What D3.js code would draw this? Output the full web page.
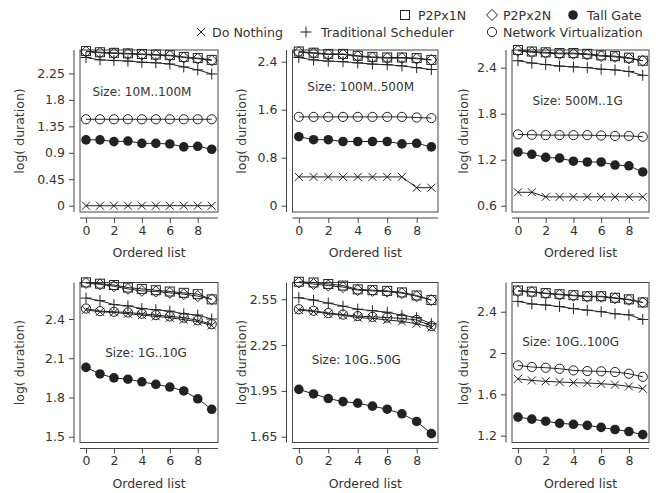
<!DOCTYPE html>
<html>
<head>
<meta charset="utf-8">
<script src="https://cdn.jsdelivr.net/npm/d3@7"></script>
<style>
  body { margin: 0; background: #fff; }
  svg { display: block; }
  text { font-family: "DejaVu Sans", sans-serif; fill: #333; }
</style>
</head>
<body>
<div id="plot"></div>
<script>
// chart values
const orderIdx = [0, 1, 2, 3, 4, 5, 6, 7, 8, 9];
const xTicks = [0, 2, 4, 6, 8];
const seriesNames = ["Do Nothing", "Traditional Scheduler", "P2Px1N", "P2Px2N", "Tall Gate", "Network Virtualization"];
const panelLabels = ["Size: 10M..100M", "Size: 100M..500M", "Size: 500M..1G", "Size: 1G..10G", "Size: 10G..50G", "Size: 10G..100G"];

const p1DoNothing   = [0, 0, 0, 0, 0, 0, 0, 0, 0, 0];
const p1Traditional = [2.52, 2.48, 2.47, 2.46, 2.44, 2.43, 2.41, 2.36, 2.31, 2.24];
const p1P2Px1N      = [2.63, 2.61, 2.60, 2.59, 2.58, 2.57, 2.56, 2.53, 2.51, 2.48];
const p1P2Px2N      = [2.62, 2.60, 2.59, 2.58, 2.57, 2.56, 2.55, 2.52, 2.50, 2.47];
const p1TallGate    = [1.12, 1.12, 1.09, 1.10, 1.06, 1.06, 1.05, 1.00, 1.01, 0.96];
const p1Network     = [1.47, 1.47, 1.47, 1.47, 1.47, 1.47, 1.47, 1.47, 1.47, 1.47];

const p2DoNothing   = [0.48, 0.48, 0.48, 0.48, 0.48, 0.48, 0.48, 0.48, 0.30, 0.30];
const p2Traditional = [2.47, 2.43, 2.41, 2.40, 2.38, 2.36, 2.35, 2.33, 2.30, 2.27];
const p2P2Px1N      = [2.57, 2.55, 2.53, 2.53, 2.50, 2.48, 2.47, 2.47, 2.46, 2.43];
const p2P2Px2N      = [2.56, 2.54, 2.52, 2.52, 2.49, 2.47, 2.46, 2.46, 2.45, 2.43];
const p2TallGate    = [1.15, 1.10, 1.10, 1.07, 1.07, 1.07, 1.07, 1.03, 1.04, 0.98];
const p2Network     = [1.48, 1.48, 1.48, 1.48, 1.48, 1.48, 1.48, 1.48, 1.47, 1.46];

const p3DoNothing   = [0.775, 0.775, 0.715, 0.715, 0.715, 0.715, 0.715, 0.715, 0.715, 0.715];
const p3Traditional = [2.49, 2.46, 2.44, 2.42, 2.41, 2.40, 2.38, 2.37, 2.35, 2.30];
const p3P2Px1N      = [2.63, 2.61, 2.60, 2.59, 2.59, 2.58, 2.56, 2.55, 2.53, 2.49];
const p3P2Px2N      = [2.62, 2.60, 2.59, 2.58, 2.58, 2.57, 2.55, 2.54, 2.52, 2.49];
const p3TallGate    = [1.30, 1.27, 1.23, 1.22, 1.18, 1.17, 1.17, 1.13, 1.12, 1.04];
const p3Network     = [1.53, 1.525, 1.52, 1.52, 1.52, 1.52, 1.515, 1.51, 1.51, 1.50];

const p4DoNothing   = [2.47, 2.455, 2.45, 2.44, 2.43, 2.42, 2.41, 2.395, 2.38, 2.35];
const p4Traditional = [2.56, 2.54, 2.51, 2.50, 2.48, 2.47, 2.46, 2.44, 2.43, 2.40];
const p4P2Px1N      = [2.68, 2.67, 2.66, 2.64, 2.63, 2.62, 2.61, 2.60, 2.59, 2.55];
const p4P2Px2N      = [2.675, 2.665, 2.65, 2.63, 2.615, 2.61, 2.60, 2.59, 2.575, 2.55];
const p4TallGate    = [2.03, 1.98, 1.95, 1.94, 1.92, 1.90, 1.88, 1.85, 1.79, 1.71];
const p4Network     = [2.48, 2.46, 2.455, 2.45, 2.44, 2.43, 2.42, 2.41, 2.39, 2.36];

const p5DoNothing   = [2.48, 2.47, 2.455, 2.445, 2.43, 2.425, 2.415, 2.405, 2.39, 2.365];
const p5Traditional = [2.56, 2.545, 2.525, 2.505, 2.485, 2.475, 2.465, 2.445, 2.43, 2.39];
const p5P2Px1N      = [2.665, 2.66, 2.65, 2.64, 2.615, 2.61, 2.605, 2.595, 2.575, 2.545];
const p5P2Px2N      = [2.66, 2.65, 2.64, 2.63, 2.61, 2.605, 2.60, 2.59, 2.57, 2.545];
const p5TallGate    = [1.96, 1.93, 1.90, 1.88, 1.87, 1.85, 1.83, 1.80, 1.75, 1.67];
const p5Network     = [2.485, 2.475, 2.46, 2.45, 2.44, 2.435, 2.43, 2.425, 2.415, 2.375];

const p6DoNothing   = [1.75, 1.735, 1.726, 1.72, 1.713, 1.71, 1.703, 1.694, 1.677, 1.655];
const p6Traditional = [2.50, 2.475, 2.465, 2.45, 2.43, 2.415, 2.40, 2.38, 2.37, 2.325];
const p6P2Px1N      = [2.605, 2.595, 2.58, 2.57, 2.56, 2.55, 2.55, 2.535, 2.52, 2.49];
const p6P2Px2N      = [2.60, 2.59, 2.575, 2.565, 2.555, 2.545, 2.545, 2.53, 2.515, 2.49];
const p6TallGate    = [1.38, 1.36, 1.34, 1.32, 1.31, 1.30, 1.28, 1.26, 1.24, 1.21];
const p6Network     = [1.88, 1.865, 1.858, 1.848, 1.832, 1.826, 1.823, 1.816, 1.80, 1.77];

const p1Ticks = [0, 0.45, 0.9, 1.35, 1.8, 2.25];
const p2Ticks = [0, 0.8, 1.6, 2.4];
const p3Ticks = [0.6, 1.2, 1.8, 2.4];
const p4Ticks = [1.5, 1.8, 2.1, 2.4];
const p5Ticks = [1.65, 1.95, 2.25, 2.55];
const p6Ticks = [1.2, 1.6, 2, 2.4];

const width = 658, height = 493;
const ink = "#222", axisInk = "#444";

const svg = d3.select("#plot").append("svg")
    .attr("width", width)
    .attr("height", height);

// marker per series, same order as seriesNames
const markers = ["cross", "plus", "square", "diamond", "dot", "circle"];

function drawMarker(g, type, x, y) {
    if (type === "cross") {
        g.append("path").attr("d", `M${x-4},${y-4}L${x+4},${y+4}M${x-4},${y+4}L${x+4},${y-4}`)
            .attr("stroke", ink).attr("fill", "none");
    } else if (type === "plus") {
        g.append("path").attr("d", `M${x-5.5},${y}H${x+5.5}M${x},${y-5.5}V${y+5.5}`)
            .attr("stroke", ink).attr("fill", "none");
    } else if (type === "square") {
        g.append("rect").attr("x", x - 4.5).attr("y", y - 4.5).attr("width", 9).attr("height", 9)
            .attr("stroke", ink).attr("fill", "none");
    } else if (type === "diamond") {
        g.append("path").attr("d", `M${x},${y-5.5}L${x+5.5},${y}L${x},${y+5.5}L${x-5.5},${y}Z`)
            .attr("stroke", ink).attr("fill", "none");
    } else if (type === "dot") {
        g.append("circle").attr("cx", x).attr("cy", y).attr("r", 4.8).attr("fill", ink);
    } else {
        g.append("circle").attr("cx", x).attr("cy", y).attr("r", 4.6)
            .attr("stroke", ink).attr("fill", "none");
    }
}

// panel layout: plot box, y range and label position (data coords)
const panels = [
    { box: [80, 50, 218, 212], y: [-0.107, 2.648], ticks: p1Ticks, ytx: 19, lab: [4.0, 1.94],
      data: [p1DoNothing, p1Traditional, p1P2Px1N, p1P2Px2N, p1TallGate, p1Network] },
    { box: [292.5, 50, 438, 212], y: [-0.105, 2.595], ticks: p2Ticks, ytx: 241, lab: [4.2, 1.98],
      data: [p2DoNothing, p2Traditional, p2P2Px1N, p2P2Px2N, p2TallGate, p2Network] },
    { box: [512, 50, 649, 212], y: [0.518, 2.63], ticks: p3Ticks, ytx: 463, lab: [4.3, 1.965],
      data: [p3DoNothing, p3Traditional, p3P2Px1N, p3P2Px2N, p3TallGate, p3Network] },
    { box: [80, 282.5, 218, 442.5], y: [1.456, 2.679], ticks: p4Ticks, ytx: 19, lab: [4.3, 2.14],
      data: [p4DoNothing, p4Traditional, p4P2Px1N, p4P2Px2N, p4TallGate, p4Network] },
    { box: [292.5, 282.5, 438, 442.5], y: [1.612, 2.66], ticks: p5Ticks, ytx: 241, lab: [3.9, 2.15],
      data: [p5DoNothing, p5Traditional, p5P2Px1N, p5P2Px2N, p5TallGate, p5Network] },
    { box: [512, 282.5, 649, 442.5], y: [1.134, 2.683], ticks: p6Ticks, ytx: 463, lab: [3.8, 2.11],
      data: [p6DoNothing, p6Traditional, p6P2Px1N, p6P2Px2N, p6TallGate, p6Network] }
];

panels.forEach((p, i) => {
    const [x0, y0, x1, y1] = p.box;
    const x = d3.scaleLinear().domain([-0.43, 9.45]).range([x0, x1]);
    const y = d3.scaleLinear().domain(p.y).range([y1, y0]);
    const g = svg.append("g");

    // box
    g.append("rect").attr("x", x0).attr("y", y0).attr("width", x1 - x0).attr("height", y1 - y0)
        .attr("fill", "none").attr("stroke", axisInk);

    // y axis, offset to the left
    const yAxis = g.append("g").attr("transform", `translate(${x0 - 6},0)`)
        .call(d3.axisLeft(y).tickValues(p.ticks).tickFormat(d3.format("")).tickSize(5).tickPadding(4));
    yAxis.select(".domain").attr("d", `M0,${y0}V${y1}`).attr("stroke", axisInk);
    yAxis.selectAll(".tick line").attr("stroke", axisInk);
    yAxis.selectAll("text").attr("font-size", 12.5).attr("font-family", "DejaVu Sans").attr("fill", "#333");

    // x axis, offset below
    const xAxis = g.append("g").attr("transform", `translate(0,${y1 + 6})`)
        .call(d3.axisBottom(x).tickValues(xTicks).tickSize(5).tickPadding(3));
    xAxis.select(".domain").attr("d", `M${x0},0H${x1}`).attr("stroke", axisInk);
    xAxis.selectAll(".tick line").attr("stroke", axisInk);
    xAxis.selectAll("text").attr("font-size", 12.5).attr("font-family", "DejaVu Sans").attr("fill", "#333");

    g.append("text").attr("x", (x0 + x1) / 2).attr("y", y1 + 45)
        .attr("text-anchor", "middle").attr("font-size", 12.5).text("Ordered list");

    g.append("text").attr("transform", `translate(${p.ytx},${(y0 + y1) / 2}) rotate(-90)`)
        .attr("text-anchor", "middle").attr("dominant-baseline", "central")
        .attr("font-size", 12.5).text("log( duration)");

    g.append("text").attr("x", x(p.lab[0])).attr("y", y(p.lab[1]))
        .attr("text-anchor", "middle").attr("dominant-baseline", "central")
        .attr("font-size", 12).text(panelLabels[i]);

    const line = d3.line().x((d, k) => x(orderIdx[k])).y(d => y(d));
    p.data.forEach((vals, s) => {
        g.append("path").attr("d", line(vals)).attr("fill", "none")
            .attr("stroke", ink).attr("stroke-width", 1);
        vals.forEach((v, k) => drawMarker(g, markers[s], x(orderIdx[k]), y(v)));
    });
});

// legend: marker position and where its text starts
const legendItems = [
    { s: 2, x: 405, tx: 418, y: 15 }, { s: 3, x: 492, tx: 503, y: 15 }, { s: 4, x: 573, tx: 587, y: 15 },
    { s: 0, x: 201, tx: 212, y: 32 }, { s: 1, x: 306, tx: 321, y: 32 }, { s: 5, x: 492, tx: 503, y: 32 }
];
const legend = svg.append("g");
legendItems.forEach(it => {
    drawMarker(legend, markers[it.s], it.x, it.y);
    legend.append("text").attr("x", it.tx).attr("y", it.y)
        .attr("dominant-baseline", "central").attr("font-size", 12.6)
        .text(seriesNames[it.s]);
});
</script>
</body>
</html>
